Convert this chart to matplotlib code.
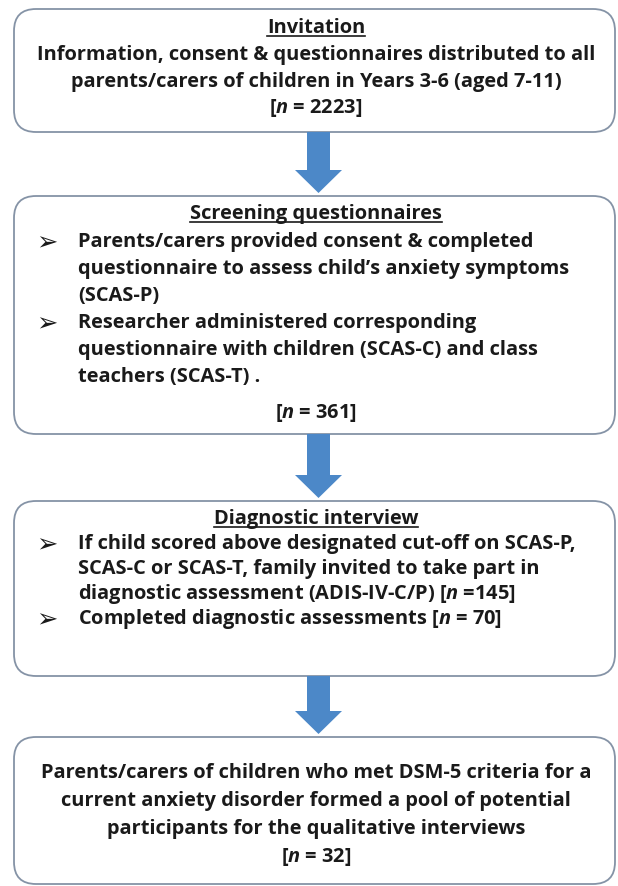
import matplotlib
matplotlib.use("Agg")
import matplotlib.pyplot as plt
from matplotlib.patches import FancyBboxPatch, FancyArrow

plt.rcParams['font.family'] = ['Open Sans', 'DejaVu Sans']
plt.rcParams['font.weight'] = 'bold'
plt.rcParams['mathtext.fontset'] = 'custom'
plt.rcParams['mathtext.rm'] = 'Open Sans:bold'
plt.rcParams['mathtext.it'] = 'Open Sans:italic:bold'

# flowchart content
titles = ["Invitation", "Screening questionnaires", "Diagnostic interview"]
n_counts = [2223, 361, 145, 70, 32]

box1_lines = ["Information, consent & questionnaires distributed to all",
              "parents/carers of children in Years 3-6 (aged 7-11)",
              "[$n$ = %d]" % n_counts[0]]
box2_lines = [("Parents/carers provided consent & completed", True),
              ("questionnaire to assess child\u2019s anxiety symptoms", False),
              ("(SCAS-P)", False),
              ("Researcher administered corresponding", True),
              ("questionnaire with children (SCAS-C) and class", False),
              ("teachers (SCAS-T) .", False)]
box2_n = "[$n$ = %d]" % n_counts[1]
box3_lines = [("If child scored above designated cut-off on SCAS-P,", True),
              ("SCAS-C or SCAS-T, family invited to take part in", False),
              ("diagnostic assessment (ADIS-IV-C/P) [$n$ =%d]" % n_counts[2], False),
              ("Completed diagnostic assessments [$n$ = %d]" % n_counts[3], True)]
box4_lines = ["Parents/carers of children who met DSM-5 criteria for a",
              "current anxiety disorder formed a pool of potential",
              "participants for the qualitative interviews",
              "[$n$ = %d]" % n_counts[4]]

# layout (pixel units, y downwards)
W, H = 618, 887
boxes = [(10, 133), (197, 435), (502, 677), (738, 885)]
x0, x1 = 14, 615
cx = 316
txt_col = '#1a1a1a'
edge_col = '#8593a6'
arrow_col = '#4c88c8'

fig = plt.figure(figsize=(W / 100, H / 100), dpi=100)
ax = fig.add_axes([0, 0, 1, 1])
ax.set_xlim(0, W)
ax.set_ylim(H, 0)
ax.axis('off')

# pick the font size so the widest line matches the reference width (~560 px)
probe = ax.text(0, 0, box1_lines[0], fontsize=14)
fig.canvas.draw()
r = fig.canvas.get_renderer()
fs = 14 * 560 / probe.get_window_extent(r).width
probe.remove()

for (top, bot) in boxes:
    ax.add_patch(FancyBboxPatch((x0, top), x1 - x0, bot - top,
                                boxstyle="round,pad=0,rounding_size=22",
                                fc='white', ec=edge_col, lw=1.3))

# arrows between boxes
for i in range(3):
    start = boxes[i][1]
    end = boxes[i + 1][0] - 3
    ax.add_patch(FancyArrow(318.5, start, 0, end - start, width=23,
                            head_width=47, head_length=23,
                            length_includes_head=True,
                            fc=arrow_col, ec='none'))

title_texts = []


def title(y, s):
    t = ax.text(cx, y, s, ha='center', va='center', fontsize=fs, color=txt_col)
    title_texts.append(t)


def centered(y, s):
    ax.text(cx, y, s, ha='center', va='center', fontsize=fs, color=txt_col)


def bullet_line(y, s, bullet):
    if bullet:
        ax.text(36, y + 1, "\u27a2", ha='left', va='center', fontsize=fs + 4,
                color=txt_col, family='DejaVu Sans')
    ax.text(78, y, s, ha='left', va='center', fontsize=fs, color=txt_col)


# box 1
title(28, titles[0])
for y, s in zip([55, 82, 108], box1_lines):
    centered(y, s)

# box 2
title(214, titles[1])
for y, (s, b) in zip([242, 269, 296, 323, 350, 377], box2_lines):
    bullet_line(y, s, b)
centered(413, box2_n)

# box 3
title(519, titles[2])
for y, (s, b) in zip([544, 569, 594, 619], box3_lines):
    bullet_line(y, s, b)

# box 4
for y, s in zip([773, 801, 829, 857], box4_lines):
    centered(y, s)

# underline titles
fig.canvas.draw()
inv = ax.transData.inverted()
for t in title_texts:
    bb = t.get_window_extent(r)
    (xa, ya), (xb, yb) = inv.transform([[bb.x0, bb.y0], [bb.x1, bb.y1]])
    ax.plot([xa, xb], [ya - 1, ya - 1], color=txt_col, lw=1.2)

fig.savefig("out.png", dpi=100, facecolor='white')
